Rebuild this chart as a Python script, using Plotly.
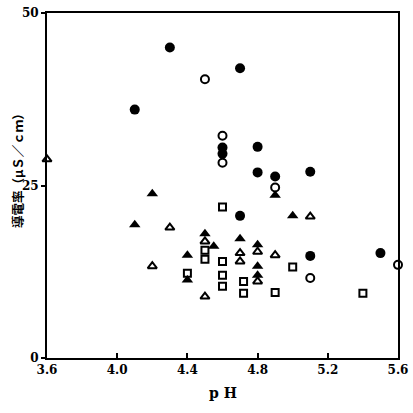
import plotly.graph_objects as go

# Data
fc_x = [4.1, 4.3, 4.7, 4.6, 4.6, 4.8, 4.8, 4.7, 4.9, 5.1, 5.1, 5.5]
fc_y = [36.0, 45.0, 42.0, 30.5, 29.6, 30.6, 26.9, 20.6, 26.3, 27.0, 14.8, 15.2]

oc_x = [4.5, 4.6, 4.6, 4.9, 5.1, 5.6]
oc_y = [40.4, 32.2, 28.3, 24.7, 11.6, 13.5]

ft_x = [4.1, 4.2, 4.9, 5.0, 4.4, 4.4, 4.5, 4.55, 4.7, 4.8, 4.8, 4.8]
ft_y = [19.3, 23.8, 23.6, 20.6, 14.9, 11.3, 18.0, 16.2, 17.3, 16.4, 13.3, 12.0]

ot_x = [3.6, 4.2, 4.3, 4.5, 4.5, 4.7, 4.7, 4.8, 4.8, 4.9, 5.1]
ot_y = [28.8, 13.3, 18.9, 16.9, 8.9, 15.2, 14.0, 15.4, 11.1, 14.9, 20.5]

os_x = [4.6, 4.4, 4.5, 4.5, 4.6, 4.6, 4.6, 4.72, 4.72, 5.0, 4.9, 5.4]
os_y = [21.9, 12.3, 15.6, 14.3, 14.0, 12.0, 10.4, 11.1, 9.4, 13.2, 9.5, 9.4]

x_ticks = [3.6, 4.0, 4.4, 4.8, 5.2, 5.6]
x_tick_labels = ["3.6", "4.0", "4.4", "4.8", "5.2", "5.6"]
y_ticks = [0, 25, 50]

fig = go.Figure()

def add(xs, ys, symbol, size):
    open_ = "open" in symbol
    fig.add_trace(go.Scatter(
        x=xs, y=ys, mode="markers", cliponaxis=False, showlegend=False,
        hoverinfo="skip",
        marker=dict(symbol=symbol, size=size, color="black",
                    line=dict(color="black", width=2 if open_ else 0)),
    ))

add(fc_x, fc_y, "circle", 10)
add(oc_x, oc_y, "circle-open", 8)
add(ft_x, ft_y, "triangle-up", 10)
add(ot_x, ot_y, "triangle-up-open", 8)
add(os_x, os_y, "square-open", 7)

tickfont = dict(family="DejaVu Serif", size=12, color="black", weight="bold")

fig.update_layout(
    width=413, height=413,
    margin=dict(l=47, r=15, t=13, b=55, autoexpand=False),
    paper_bgcolor="white", plot_bgcolor="white",
    xaxis=dict(range=[3.6, 5.6], tickvals=x_ticks, ticktext=x_tick_labels,
               automargin=False,
               showgrid=False, zeroline=False, showline=True, mirror=True,
               linecolor="black", linewidth=2, ticks="inside", ticklen=5,
               tickwidth=2, tickcolor="black", tickfont=tickfont),
    yaxis=dict(range=[0, 50], tickvals=y_ticks, automargin=False,
               showgrid=False, zeroline=False, showline=True, mirror=True,
               linecolor="black", linewidth=2, ticks="outside", ticklen=4,
               tickwidth=2, tickcolor="black", tickfont=tickfont),
    annotations=[
        dict(text="p H", xref="paper", yref="paper", x=0.5, y=-0.1,
             xanchor="center", yanchor="middle", showarrow=False,
             font=dict(family="DejaVu Serif", size=14, color="black", weight="bold")),
        dict(text="導電率（μＳ／ｃｍ）", xref="paper", yref="paper",
             x=-30/351, y=(358-168)/345, textangle=-90,
             xanchor="center", yanchor="middle", showarrow=False,
             font=dict(family="Noto Sans CJK JP", size=12.5, color="black", weight="bold")),
    ],
)

fig.write_html("out.html", config={"displayModeBar": False},
               post_script="document.body.style.margin='0';document.body.style.overflow='hidden';")
